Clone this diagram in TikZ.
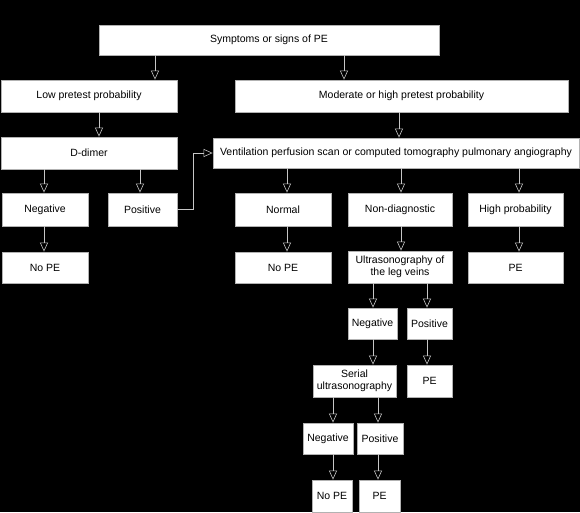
\documentclass[tikz,border=0pt]{standalone}
\usepackage{fontspec}
\setmainfont{Liberation Sans}
\usetikzlibrary{arrows.meta,calc}

\begin{document}
\begin{tikzpicture}[x=1pt,y=-1pt,
    box/.style={draw=gray!60, line width=0.8pt, fill=white, inner sep=0pt, align=center,
      font=\fontsize{10.5}{12.5}\selectfont},
    arr/.style={draw=gray!45, line width=1pt,
      -{Triangle[open,length=9pt,width=8pt,line width=0.6pt]}}]
    \fill[black] (0,0) rectangle (580,512);
    \useasboundingbox (0,0) rectangle (580,512);
    % first rows
    \node[box, minimum width=340, minimum height=30] (sym) at (269,40) {Symptoms or signs of PE};
    \node[box, minimum width=176, minimum height=32] (low) at (89,96) {Low pretest probability};
    \node[box, minimum width=333, minimum height=32] (mod) at (401.5,96) {Moderate or high pretest probability};
    \node[box, minimum width=176, minimum height=32] (ddim) at (89,153) {D-dimer};
    \node[box, minimum width=366, minimum height=30] (vent) at (396,153) {Ventilation perfusion scan or computed tomography pulmonary angiography};
    % results
    \node[box, minimum width=86, minimum height=33] (negl) at (45,209.5) {Negative};
    \node[box, minimum width=69, minimum height=33] (posl) at (142.5,209.5) {Positive};
    \node[box, minimum width=96, minimum height=33] (norm) at (283,209.5) {Normal};
    \node[box, minimum width=104, minimum height=33] (nond) at (400,209.5) {Non-diagnostic};
    \node[box, minimum width=95, minimum height=33] (high) at (515.5,209.5) {High probability};
    \node[box, minimum width=86, minimum height=31] (nopel) at (45,267.5) {No PE};
    \node[box, minimum width=96, minimum height=31] (nopem) at (283,267.5) {No PE};
    \node[box, minimum width=104, minimum height=32] (ultra) at (400,267) {Ultrasonography of\\the leg veins};
    \node[box, minimum width=95, minimum height=31] (pe) at (515.5,267.5) {PE};
    % leg veins
    \node[box, minimum width=49, minimum height=31] (negm) at (372.5,323.5) {Negative};
    \node[box, minimum width=45, minimum height=31] (posm) at (429.5,323.5) {Positive};
    \node[box, minimum width=83, minimum height=32] (serial) at (354.5,381) {Serial\\ultrasonography};
    \node[box, minimum width=45, minimum height=32] (pem) at (429.5,381) {PE};
    \node[box, minimum width=50, minimum height=31] (negb) at (328,438.5) {Negative};
    \node[box, minimum width=46, minimum height=31] (posb) at (380,438.5) {Positive};
    \node[box, minimum width=40, minimum height=32] (nopeb) at (332,496) {No PE};
    \node[box, minimum width=41, minimum height=32] (peb) at (379.5,496) {PE};
    % arrows
    \foreach \a/\b/\dx in {sym/low/-114, sym/mod/75, low/ddim/10, mod/vent/-2.5,
        ddim/negl/-45, ddim/posl/51, vent/norm/-109, vent/nond/5, vent/high/123,
        negl/nopel/-1, norm/nopem/4, nond/ultra/1, high/pe/3.5,
        ultra/negm/-27, ultra/posm/27, negm/serial/0.5, posm/pem/-2.5,
        serial/negb/-21.5, serial/posb/23.5, negb/nopeb/5, posb/peb/-2}{
      \path ([xshift=\dx pt]\a.south) coordinate (t);
      \draw[arr] (t) -- (t |- \b.north);
    }
    \draw[arr] (posl.east) -- ++(16,0) |- (vent.west);
\end{tikzpicture}
\end{document}
